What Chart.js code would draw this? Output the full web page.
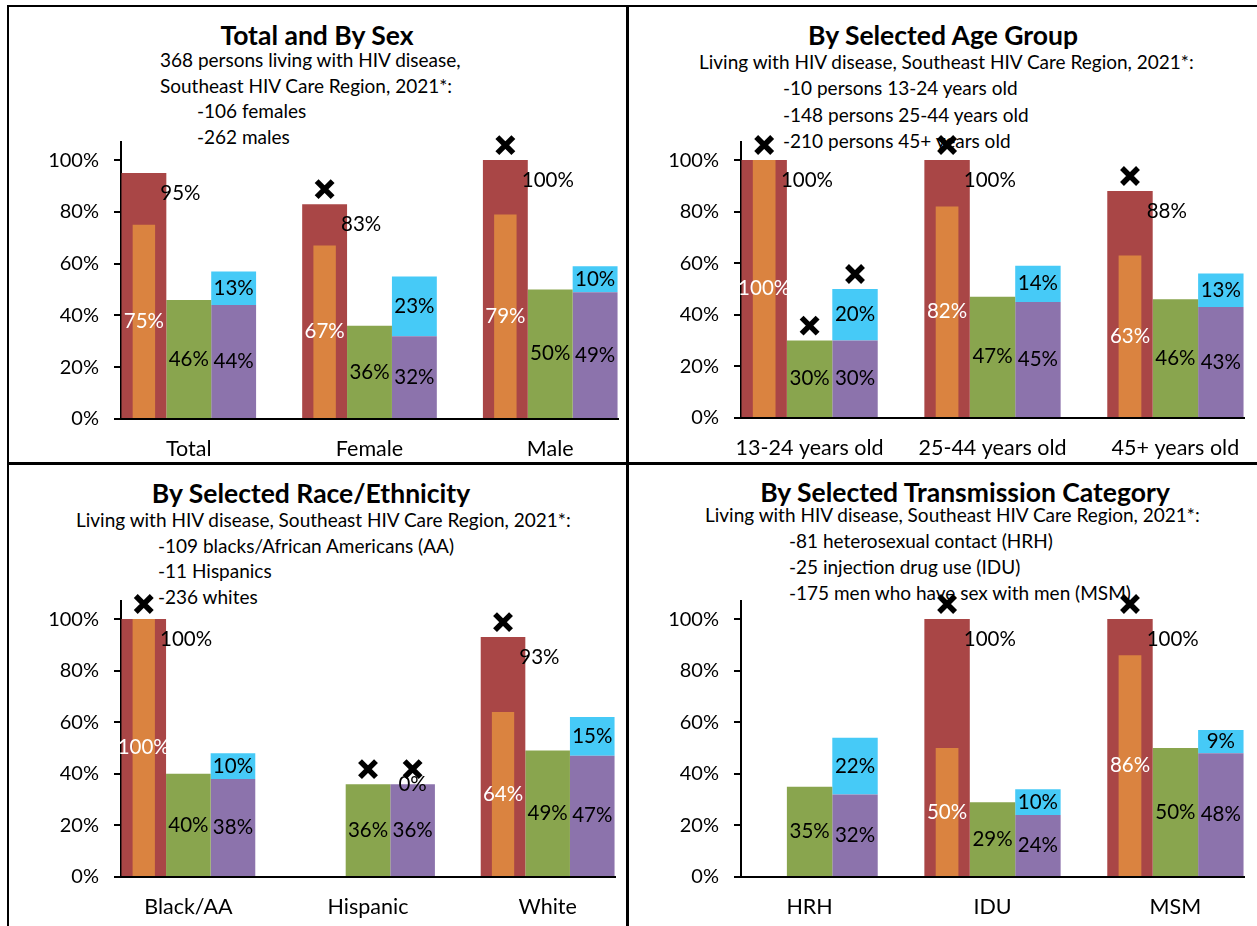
<!DOCTYPE html>
<html lang="en">
<head>
<meta charset="utf-8">
<title>Southeast HIV Care Region, 2021</title>
<script src="https://cdn.jsdelivr.net/npm/chart.js@4.4.1/dist/chart.umd.min.js"></script>
<style>
  body { margin: 0; background: #fff; }
  #lienzo { position: relative; width: 1257px; height: 926px; overflow: hidden; font-family: Lato, "Noto Sans", sans-serif; color: #000; }
  .linea { position: absolute; background: #000; }
  .titulo { position: absolute; font-weight: bold; font-size: 26.5px; line-height: 30px; white-space: nowrap; transform: translate(-50%, -50%); }
  .nota { position: absolute; font-size: 19px; line-height: 22px; white-space: nowrap; transform: translateY(-50%); }
  canvas { position: absolute; z-index: 2; }
</style>
</head>
<body>
<div id="lienzo"></div>
<script>
// ---- DATOS ----
const sexoTitulo = "Total and By Sex";
const sexoNotas = ["368 persons living with HIV disease,", "Southeast HIV Care Region, 2021*:", "-106 females", "-262 males"];
const sexoCategorias = ["Total", "Female", "Male"];
const sexoRojo = [95, 83, 100];
const sexoNaranja = [75, 67, 79];
const sexoVerde = [46, 36, 50];
const sexoMorado = [44, 32, 49];
const sexoCeleste = [13, 23, 10];
const sexoCruces = [[], ["rojo"], ["rojo"]];

const edadTitulo = "By Selected Age Group";
const edadNotas = ["Living with HIV disease, Southeast HIV Care Region, 2021*:", "-10 persons 13-24 years old", "-148 persons 25-44 years old", "-210 persons 45+ years old"];
const edadCategorias = ["13-24 years old", "25-44 years old", "45+ years old"];
const edadRojo = [100, 100, 88];
const edadNaranja = [100, 82, 63];
const edadVerde = [30, 47, 46];
const edadMorado = [30, 45, 43];
const edadCeleste = [20, 14, 13];
const edadCruces = [["rojo", "verde", "celeste"], ["rojo"], ["rojo"]];

const razaTitulo = "By Selected Race/Ethnicity";
const razaNotas = ["Living with HIV disease, Southeast HIV Care Region, 2021*:", "-109 blacks/African Americans (AA)", "-11 Hispanics", "-236 whites"];
const razaCategorias = ["Black/AA", "Hispanic", "White"];
const razaRojo = [100, 0, 93];
const razaNaranja = [100, 0, 64];
const razaVerde = [40, 36, 49];
const razaMorado = [38, 36, 47];
const razaCeleste = [10, 0, 15];
const razaCruces = [["rojo"], ["verde", "celeste"], ["rojo"]];

const transTitulo = "By Selected Transmission Category";
const transNotas = ["Living with HIV disease, Southeast HIV Care Region, 2021*:", "-81 heterosexual contact (HRH)", "-25 injection drug use (IDU)", "-175 men who have sex with men (MSM)"];
const transCategorias = ["HRH", "IDU", "MSM"];
const transRojo = [0, 100, 100];
const transNaranja = [0, 50, 86];
const transVerde = [35, 29, 50];
const transMorado = [32, 24, 48];
const transCeleste = [22, 10, 9];
const transCruces = [[], ["rojo"], ["rojo"]];

const marcasY = [0, 20, 40, 60, 80, 100];

// colores de las series
const colores = {
    rojo: "#A94646",
    naranja: "#DA8340",
    verde: "#89A54E",
    morado: "#8C73AC",
    celeste: "#46CAF7"
};

// ---- DISPOSICION (px de la pagina) ----
const paneles = [
    { titulo: sexoTitulo, notas: sexoNotas, categorias: sexoCategorias, rojo: sexoRojo, naranja: sexoNaranja, verde: sexoVerde, morado: sexoMorado, celeste: sexoCeleste, cruces: sexoCruces,
      area: { left: 121, top: 142, right: 618, bottom: 419 }, tituloXY: [317, 35], notasX: [160, 160, 197, 197], notasY: 60, paso: 25.7 },
    { titulo: edadTitulo, notas: edadNotas, categorias: edadCategorias, rojo: edadRojo, naranja: edadNaranja, verde: edadVerde, morado: edadMorado, celeste: edadCeleste, cruces: edadCruces,
      area: { left: 741, top: 142, right: 1244, bottom: 418 }, tituloXY: [943, 35], notasX: [699, 783, 783, 783], notasY: 62, paso: 26.3 },
    { titulo: razaTitulo, notas: razaNotas, categorias: razaCategorias, rojo: razaRojo, naranja: razaNaranja, verde: razaVerde, morado: razaMorado, celeste: razaCeleste, cruces: razaCruces,
      area: { left: 121, top: 601, right: 615, bottom: 877 }, tituloXY: [311, 493], notasX: [76, 158, 158, 158], notasY: 520, paso: 25.7 },
    { titulo: transTitulo, notas: transNotas, categorias: transCategorias, rojo: transRojo, naranja: transNaranja, verde: transVerde, morado: transMorado, celeste: transCeleste, cruces: transCruces,
      area: { left: 741, top: 601, right: 1244, bottom: 877 }, tituloXY: [965, 492], notasX: [705, 789, 789, 789], notasY: 515, paso: 26 }
];

const anchoY = 112;
const altoX = 45;
const margenArriba = 42;
const margenDerecha = 8;

Chart.defaults.font.family = "Lato, 'Noto Sans', sans-serif";
Chart.defaults.color = "#000";

// etiquetas de valor y cruces dibujadas sobre las barras
const etiquetas = {
    id: "etiquetas",
    afterDatasetsDraw(chart, args, opts) {
        const ctx = chart.ctx;
        ctx.save();
        ctx.font = "20.5px Lato, 'Noto Sans', sans-serif";
        ctx.textBaseline = "middle";
        chart.data.datasets.forEach((ds, d) => {
            const meta = chart.getDatasetMeta(d);
            meta.data.forEach((barra, i) => {
                const valor = ds.valores[i];
                const medio = (barra.y + barra.base) / 2;
                if (ds.serie === "rojo") {
                    if (valor === 0) return;
                    ctx.fillStyle = "#000";
                    ctx.textAlign = "left";
                    ctx.fillText(valor + "%", barra.x + barra.width / 2 - 6, barra.y + 20);
                } else if (ds.serie === "naranja") {
                    if (valor === 0) return;
                    ctx.fillStyle = "#fff";
                    ctx.textAlign = "center";
                    ctx.fillText(valor + "%", barra.x, medio);
                } else {
                    ctx.fillStyle = "#000";
                    ctx.textAlign = "center";
                    ctx.fillText(valor + "%", barra.x, medio);
                }
            });
        });

        // cruces encima de las barras marcadas
        ctx.strokeStyle = "#000";
        ctx.lineWidth = 5.5;
        ctx.lineCap = "butt";
        opts.cruces.forEach((series, i) => {
            series.forEach(serie => {
                const d = chart.data.datasets.findIndex(ds => ds.serie === serie);
                const barra = chart.getDatasetMeta(d).data[i];
                const cx = barra.x;
                const cy = Math.min(barra.y, barra.base) - 15;
                ctx.beginPath();
                ctx.moveTo(cx - 8, cy - 8);
                ctx.lineTo(cx + 8, cy + 8);
                ctx.moveTo(cx + 8, cy - 8);
                ctx.lineTo(cx - 8, cy + 8);
                ctx.stroke();
            });
        });
        ctx.restore();
    }
};

function puntos(valores) {
    return valores.map((v, i) => ({ x: i, y: v }));
}

function armarGrafico(panel) {
    const lienzo = document.getElementById("lienzo");

    // titulo y notas
    const t = document.createElement("div");
    t.className = "titulo";
    t.textContent = panel.titulo;
    t.style.left = panel.tituloXY[0] + "px";
    t.style.top = panel.tituloXY[1] + "px";
    lienzo.appendChild(t);

    panel.notas.forEach((texto, k) => {
        const n = document.createElement("div");
        n.className = "nota";
        n.textContent = texto;
        n.style.left = panel.notasX[k] + "px";
        n.style.top = (panel.notasY + k * panel.paso) + "px";
        lienzo.appendChild(n);
    });

    // canvas del grafico
    const a = panel.area;
    const ancho = anchoY + (a.right - a.left) + margenDerecha;
    const alto = margenArriba + (a.bottom - a.top) + altoX;
    const canvas = document.createElement("canvas");
    canvas.width = ancho;
    canvas.height = alto;
    canvas.style.width = ancho + "px";
    canvas.style.height = alto + "px";
    canvas.style.left = (a.left - anchoY) + "px";
    canvas.style.top = (a.top - margenArriba) + "px";
    lienzo.appendChild(canvas);

    const cats = panel.categorias;

    new Chart(canvas, {
        type: "bar",
        data: {
            datasets: [
                { serie: "naranja", valores: panel.naranja, data: puntos(panel.naranja), stack: "a", barPercentage: 0.5, backgroundColor: colores.naranja },
                { serie: "rojo", valores: panel.rojo, data: puntos(panel.rojo), stack: "a", backgroundColor: colores.rojo },
                { serie: "verde", valores: panel.verde, data: puntos(panel.verde), stack: "b", backgroundColor: colores.verde },
                { serie: "morado", valores: panel.morado, data: puntos(panel.morado), stack: "c", backgroundColor: colores.morado },
                { serie: "celeste", valores: panel.celeste, data: panel.celeste.map((v, i) => ({ x: i, y: [panel.morado[i], panel.morado[i] + v] })), stack: "c", backgroundColor: colores.celeste }
            ]
        },
        options: {
            responsive: false,
            animation: false,
            events: [],
            layout: { padding: { top: margenArriba, right: margenDerecha, left: 0, bottom: 0 } },
            datasets: { bar: { categoryPercentage: 0.745, barPercentage: 1, borderWidth: 0 } },
            plugins: {
                legend: { display: false },
                tooltip: { enabled: false },
                etiquetas: { cruces: panel.cruces }
            },
            scales: {
                x: {
                    type: "linear",
                    offset: false,
                    min: -0.375,
                    max: cats.length - 1 + 0.375,
                    grid: { display: false },
                    border: { display: true, color: "#000", width: 2 },
                    afterBuildTicks: s => { s.ticks = cats.map((c, i) => ({ value: i })); },
                    afterFit: s => { s.height = altoX; },
                    ticks: { autoSkip: false, maxRotation: 0, padding: 9, color: "#000", font: { size: 21.5 }, callback: v => cats[v] }
                },
                y: {
                    min: 0,
                    max: 107,
                    stacked: false,
                    afterBuildTicks: s => { s.ticks = marcasY.map(v => ({ value: v })); },
                    afterFit: s => { s.width = anchoY; },
                    grid: { drawOnChartArea: false, drawTicks: true, tickLength: 7, color: "#000", lineWidth: 2 },
                    border: { color: "#000", width: 2 },
                    ticks: { padding: 15, color: "#000", font: { size: 20 }, callback: v => v + "%" }
                }
            }
        },
        plugins: [etiquetas]
    });
}

// marco de los paneles
function armarMarco() {
    const lienzo = document.getElementById("lienzo");
    const lineas = [
        [7, 5, 1250, 2],
        [7, 5, 2, 921],
        [626, 5, 3, 921],
        [7, 462, 1250, 3]
    ];
    lineas.forEach(l => {
        const div = document.createElement("div");
        div.className = "linea";
        div.style.left = l[0] + "px";
        div.style.top = l[1] + "px";
        div.style.width = l[2] + "px";
        div.style.height = l[3] + "px";
        lienzo.appendChild(div);
    });
}

armarMarco();
paneles.forEach(armarGrafico);
</script>
</body>
</html>
